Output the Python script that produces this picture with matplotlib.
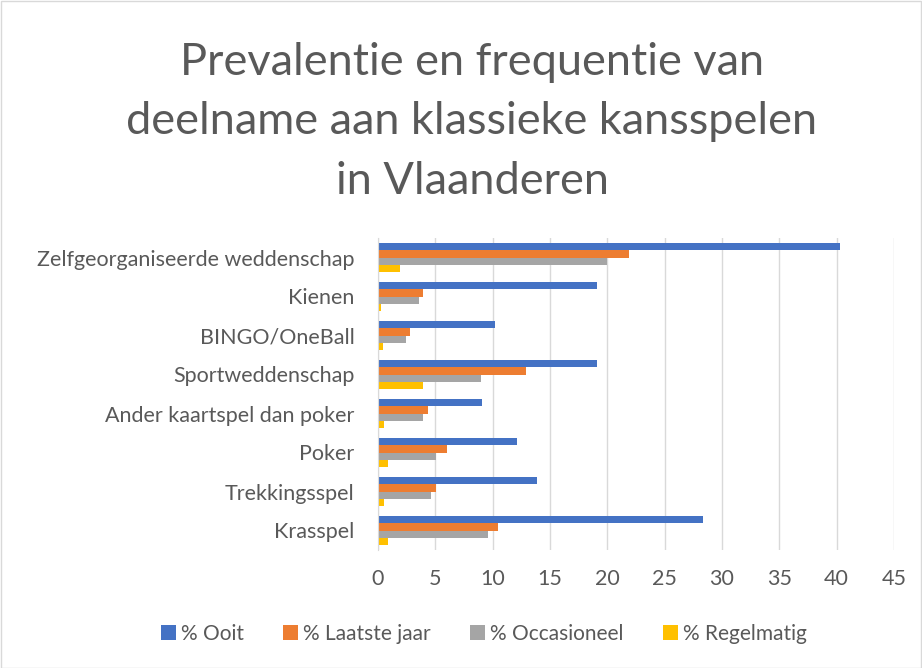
import matplotlib
matplotlib.use("Agg")
import matplotlib.pyplot as plt
import numpy as np
from matplotlib.patches import Rectangle

categories = ["Zelfgeorganiseerde weddenschap", "Kienen", "BINGO/OneBall",
              "Sportweddenschap", "Ander kaartspel dan poker", "Poker",
              "Trekkingsspel", "Krasspel"]
series_names = ["% Ooit", "% Laatste jaar", "% Occasioneel", "% Regelmatig"]
ooit = [40.3, 19.1, 10.2, 19.1, 9.1, 12.1, 13.9, 28.3]
laatste_jaar = [21.9, 3.9, 2.8, 12.9, 4.4, 6.0, 5.1, 10.5]
occasioneel = [20.0, 3.6, 2.4, 9.0, 3.9, 5.1, 4.6, 9.6]
regelmatig = [1.9, 0.3, 0.4, 3.9, 0.5, 0.9, 0.5, 0.9]
colors = ["#4472C4", "#ED7D31", "#A5A5A5", "#FFC000"]
xticks = [0, 5, 10, 15, 20, 25, 30, 35, 40, 45]

plt.rcParams['font.family'] = ['Lato', 'DejaVu Sans']

fig = plt.figure(figsize=(9.22, 6.68), dpi=100)
fig.patches.append(Rectangle((0.5 / 922, 0.5 / 668), 1 - 1.5 / 922, 1 - 1.5 / 668,
                             transform=fig.transFigure, fill=False,
                             edgecolor="#D9D9D9", linewidth=1))
ax = fig.add_axes([378 / 922, 1 - 550 / 668, (894 - 378) / 922, (550 - 238) / 668])

n = len(categories)
ypos = np.arange(n)[::-1]
bh = 0.185
data = [ooit, laatste_jaar, occasioneel, regelmatig]
for i, (vals, c, name) in enumerate(zip(data, colors, series_names)):
    ax.barh(ypos + (1.5 - i) * bh, vals, height=bh, color=c, label=name, zorder=3)

ax.set_ylim(-0.5, n - 0.5)
ax.set_xlim(0, 45)
ax.set_xticks(xticks)
ax.set_yticks(ypos)
ax.set_yticklabels(categories)
ax.tick_params(axis='both', length=0, labelsize=15.5, colors="#595959")
ax.tick_params(axis='y', pad=17)
ax.tick_params(axis='x', pad=14)
ax.grid(axis='x', color="#D9D9D9", linewidth=1, zorder=0)
for s in ["top", "right", "bottom"]:
    ax.spines[s].set_visible(False)
ax.spines["left"].set_color("#D9D9D9")
ax.spines["left"].set_zorder(4)

fig.text(472 / 922, 1 - 122 / 668, "Prevalentie en frequentie van\ndeelname aan klassieke kansspelen\nin Vlaanderen",
         ha="center", va="center", fontsize=32.5, color="#595959",
         linespacing=1.55)

handles, labels = ax.get_legend_handles_labels()
fig.legend(handles, labels, loc="center", bbox_to_anchor=(484 / 922, 1 - 634 / 668), ncol=4,
           frameon=False, fontsize=15, labelcolor="#595959", handlelength=0.7,
           handleheight=0.7, handletextpad=0.25, columnspacing=1.9)

fig.savefig("out.png", dpi=100)
